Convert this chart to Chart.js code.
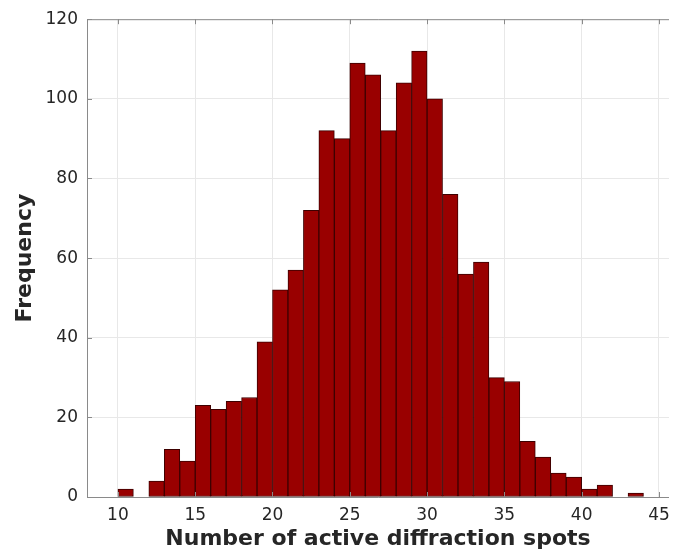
<!DOCTYPE html>
<html>
<head>
<meta charset="utf-8">
<script src="https://cdn.jsdelivr.net/npm/chart.js@4"></script>
<style>
  html, body { margin: 0; padding: 0; background: #ffffff; }
  #wrap { width: 682px; height: 552px; }
</style>
</head>
<body>
<div id="wrap"><canvas id="c" width="682" height="552"></canvas></div>
<script>
// Histogram bins (left edges, bin width 1) and counts
const binStarts = [10, 12, 13, 14, 15, 16, 17, 18, 19, 20, 21, 22, 23, 24, 25, 26, 27, 28, 29, 30, 31, 32, 33, 34, 35, 36, 37, 38, 39, 40, 41, 43];
const counts    = [ 2,  4, 12,  9, 23, 22, 24, 25, 39, 52, 57, 72, 92, 90, 109, 106, 92, 104, 112, 100, 76, 56, 59, 30, 29, 14, 10,  6,  5,  2,  3,  1];
const binWidth = 1;
const xTicks = [10, 15, 20, 25, 30, 35, 40, 45];
const yTicks = [0, 20, 40, 60, 80, 100, 120];
const xTitle = 'Number of active diffraction spots';
const yTitle = 'Frequency';

const points = binStarts.map((s, i) => ({ x: s + binWidth / 2, y: counts[i] }));

const textColor = '#262626';
const axisColor = '#8a8a8a';

const frame = {
  id: 'frame',
  afterDraw(chart) {
    const { ctx, chartArea: a, scales } = chart;
    ctx.save();
    ctx.strokeStyle = axisColor;
    ctx.lineWidth = 1;
    ctx.beginPath();
    ctx.moveTo(a.left + 0.5, a.top + 0.5);
    ctx.lineTo(a.left + 0.5, a.bottom + 0.5);
    ctx.lineTo(a.right, a.bottom + 0.5);
    ctx.moveTo(a.left + 0.5, a.top + 0.5);
    ctx.lineTo(a.right, a.top + 0.5);
    const tl = 5;
    xTicks.forEach(v => {
      const px = Math.round(scales.x.getPixelForValue(v)) + 0.5;
      ctx.moveTo(px, a.bottom); ctx.lineTo(px, a.bottom - tl);
      ctx.moveTo(px, a.top); ctx.lineTo(px, a.top + tl);
    });
    yTicks.forEach(v => {
      const py = Math.round(scales.y.getPixelForValue(v)) + 0.5;
      ctx.moveTo(a.left, py); ctx.lineTo(a.left + tl, py);
    });
    ctx.stroke();
    ctx.restore();
  }
};

new Chart(document.getElementById('c'), {
  type: 'bar',
  data: {
    datasets: [{
      data: points,
      backgroundColor: '#990000',
      borderColor: '#3d0000',
      borderWidth: 1,
      borderSkipped: false,
      barPercentage: 1,
      categoryPercentage: 1,
      grouped: false
    }]
  },
  options: {
    responsive: false,
    animation: false,
    devicePixelRatio: 1,
    layout: { padding: { top: 17, right: 13, left: 0, bottom: 0 } },
    plugins: { legend: { display: false }, tooltip: { enabled: false } },
    scales: {
      x: {
        type: 'linear',
        offset: false,
        min: 8,
        max: 45.65,
        afterBuildTicks: s => { s.ticks = xTicks.map(v => ({ value: v })); },
        afterFit: s => { s.height = 55; },
        ticks: {
          color: textColor,
          font: { family: 'DejaVu Sans', size: 17 },
          padding: 8,
          maxRotation: 0,
          autoSkip: false
        },
        grid: { color: '#e8e8e8', drawTicks: false, offset: false },
        border: { display: false },
        title: {
          display: true,
          text: xTitle,
          color: textColor,
          font: { family: 'DejaVu Sans', size: 22, weight: 'bold' },
          padding: { top: 0, bottom: 0 }
        }
      },
      y: {
        type: 'linear',
        min: 0,
        max: 120,
        afterBuildTicks: s => { s.ticks = yTicks.map(v => ({ value: v })); },
        afterFit: s => { s.width = 87; },
        ticks: {
          color: textColor,
          font: { family: 'DejaVu Sans', size: 17 },
          padding: 9
        },
        grid: { color: '#e8e8e8', drawTicks: false },
        border: { display: false },
        title: {
          display: true,
          text: yTitle,
          color: textColor,
          font: { family: 'DejaVu Sans', size: 22, weight: 'bold' },
          padding: { top: 12, bottom: 0 }
        }
      }
    }
  },
  plugins: [frame]
});
</script>
</body>
</html>
